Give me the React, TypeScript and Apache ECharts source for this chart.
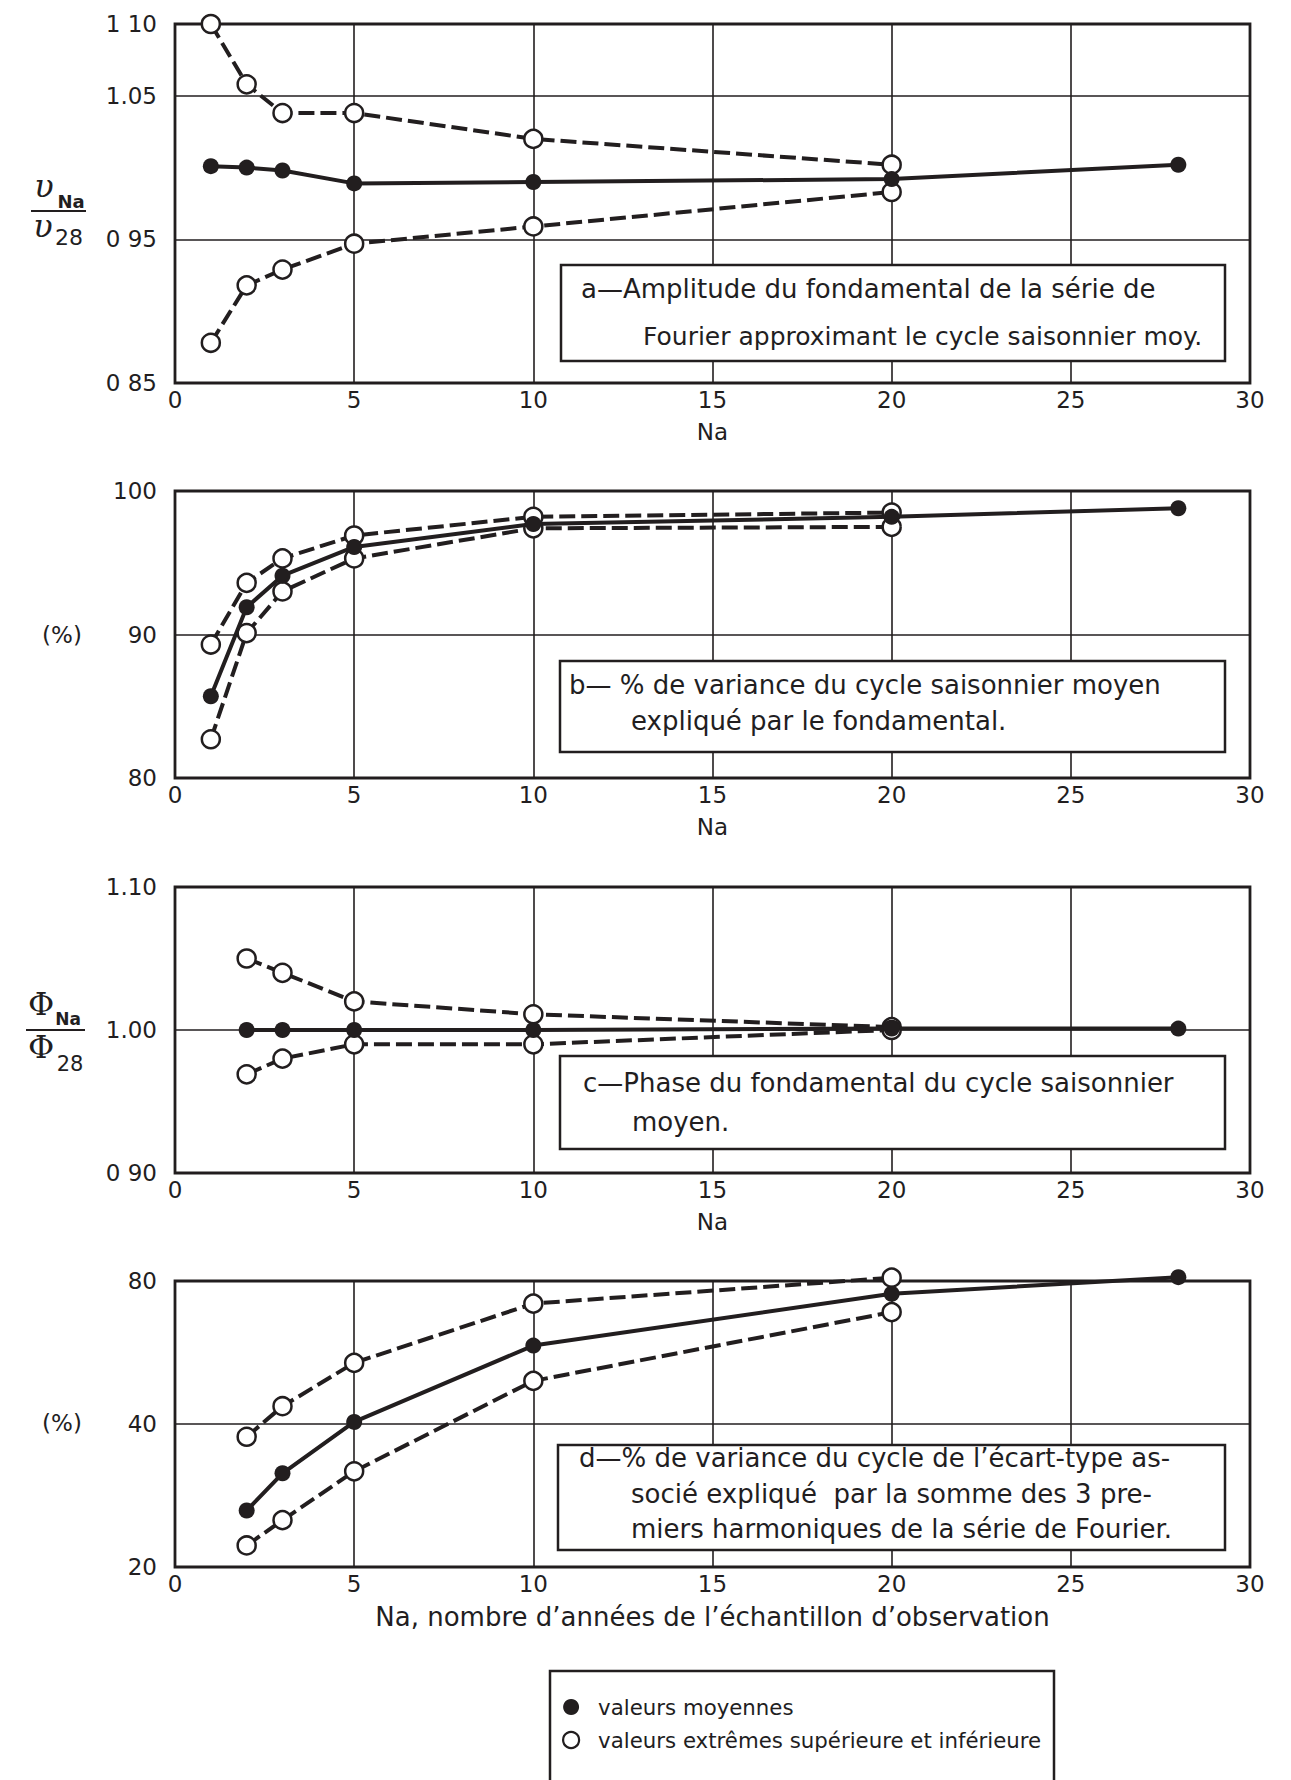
import React, { useEffect, useRef } from "react";
import * as echarts from "echarts";

const INK = "#221e1f";
const SANS = "'DejaVu Sans', 'Noto Sans', sans-serif";
const SERIF = "'DejaVu Serif', 'Liberation Serif', serif";

const MEAN_NAME = "valeurs moyennes";
const EXT_NAME = "valeurs extrêmes supérieure et inférieure";

// Na: number of years in the observation sample
const naAll = [1, 2, 3, 5, 10, 20, 28];
const naExtremes = [1, 2, 3, 5, 10, 20];
const naFrom2 = [2, 3, 5, 10, 20, 28];
const naExtremesFrom2 = [2, 3, 5, 10, 20];

// a — amplitude of the fundamental, v_Na / v_28
const ampMean = [1.001, 1.0, 0.998, 0.989, 0.99, 0.992, 1.002];
const ampUpper = [1.1, 1.058, 1.038, 1.038, 1.02, 1.002];
const ampLower = [0.878, 0.918, 0.929, 0.947, 0.959, 0.983];

// b — % of variance of the mean seasonal cycle explained by the fundamental
const varMean = [85.7, 91.9, 94.1, 96.1, 97.7, 98.2, 98.8];
const varUpper = [89.3, 93.6, 95.3, 96.9, 98.2, 98.5];
const varLower = [82.7, 90.1, 93.0, 95.3, 97.4, 97.5];

// c — phase of the fundamental, Φ_Na / Φ_28
const phaseMean = [1.0, 1.0, 1.0, 1.0, 1.001, 1.001];
const phaseUpper = [1.05, 1.04, 1.02, 1.011, 1.002];
const phaseLower = [0.969, 0.98, 0.99, 0.99, 1.0];

// d — % of variance of the standard-deviation cycle explained by the first 3 harmonics
const sdMean = [26.3, 31.5, 40.4, 58.5, 75.2, 81.5];
const sdUpper = [37.6, 43.6, 53.8, 71.7, 81.3];
const sdLower = [22.2, 25.1, 31.8, 49.3, 68.8];

// y-axis tick values and their printed labels
const ampTicks = [0.85, 0.95, 1.05, 1.1];
const ampTickLabels = ["0 85", "0 95", "1.05", "1 10"];
const varTicks = [80, 90, 100];
const varTickLabels = ["80", "90", "100"];
const phaseTicks = [0.9, 1.0, 1.1];
const phaseTickLabels = ["0 90", "1.00", "1.10"];
const sdTicks = [20, 40, 80];
const sdTickLabels = ["20", "40", "80"];
const sdGrid = [40];

// captions
const noteA = ["a—Amplitude du fondamental de la série de", "Fourier approximant le cycle saisonnier moy."];
const noteB = ["b— % de variance du cycle saisonnier moyen", "expliqué par le fondamental."];
const noteC = ["c—Phase du fondamental du cycle saisonnier", "moyen."];
const noteD = [
  "d—% de variance du cycle de l’écart-type as-",
  "socié expliqué  par la somme des 3 pre-",
  "miers harmoniques de la série de Fourier.",
];
const xTitle = "Na";
const xTitleLast = "Na, nombre d’années de l’échantillon d’observation";

// layout (px)
const PLOT_LEFT = 175;
const PLOT_WIDTH = 1075;
const panelTops = [24, 491, 887, 1281];
const panelHeights = [359, 287, 286, 286];
const NOTE_FONT = 26;
const TICK_FONT = 23;
const BOX_RIGHT = 1225;

const pairs = (xs: number[], ys: number[]) => xs.map((x, k) => [x, ys[k]]);

const labelFor = (v: number, ticks: number[], labels: string[]) => {
  for (let k = 0; k < ticks.length; k++) {
    if (Math.abs(ticks[k] - v) < 1e-6 * Math.max(1, Math.abs(v))) return labels[k];
  }
  return "";
};

function xAxisFor(i: number) {
  return {
    type: "value",
    gridIndex: i,
    min: 0,
    max: 30,
    interval: 5,
    axisLine: { show: false },
    axisTick: { show: false },
    splitLine: { show: true, lineStyle: { color: INK, width: 1.6 } },
    axisLabel: {
      margin: 5,
      fontSize: TICK_FONT,
      color: INK,
      fontFamily: SANS,
      showMinLabel: true,
      showMaxLabel: true,
    },
    name: i === 3 ? xTitleLast : xTitle,
    nameLocation: "middle",
    nameGap: 37,
    nameTextStyle: { fontSize: i === 3 ? 26 : TICK_FONT, color: INK, fontFamily: SANS },
  };
}

function yAxisFor(
  i: number,
  min: number,
  max: number,
  interval: number | null,
  ticks: number[],
  labels: string[],
  log = false
) {
  const axis: any = {
    type: log ? "log" : "value",
    gridIndex: i,
    min,
    max,
    axisLine: { show: false },
    axisTick: { show: false },
    splitLine: { show: !log, lineStyle: { color: INK, width: 1.6 } },
    axisLabel: {
      margin: 18,
      fontSize: TICK_FONT,
      color: INK,
      fontFamily: SANS,
      showMinLabel: true,
      showMaxLabel: true,
      formatter: (v: number) => labelFor(v, ticks, labels),
    },
  };
  if (log) {
    axis.logBase = 2;
    axis.axisLabel.customValues = ticks;
  } else if (interval != null) {
    axis.interval = interval;
  }
  return axis;
}

function meanSeries(i: number, data: number[][]) {
  return {
    type: "line",
    name: MEAN_NAME,
    xAxisIndex: i,
    yAxisIndex: i,
    data,
    symbol: "circle",
    symbolSize: 16,
    clip: false,
    silent: true,
    z: 5,
    lineStyle: { color: INK, width: 4 },
    itemStyle: { color: INK, borderColor: INK, borderWidth: 0 },
  };
}

function extremeSeries(i: number, data: number[][]) {
  return {
    type: "line",
    name: EXT_NAME,
    xAxisIndex: i,
    yAxisIndex: i,
    data,
    symbol: "circle",
    symbolSize: 18,
    clip: false,
    silent: true,
    z: 4,
    lineStyle: { color: INK, width: 4, type: [16, 6] },
    itemStyle: { color: "#ffffff", borderColor: INK, borderWidth: 2.5 },
  };
}

function gridLineSeries(i: number, values: number[]) {
  return {
    type: "line",
    name: "grille",
    xAxisIndex: i,
    yAxisIndex: i,
    data: [],
    silent: true,
    z: 2,
    markLine: {
      silent: true,
      symbol: ["none", "none"],
      label: { show: false },
      lineStyle: { color: INK, width: 1.6, type: "solid" },
      data: values.map((v) => ({ yAxis: v })),
    },
  };
}

const text = (x: number, y: number, t: string, fontSize: number, opts: any = {}) => ({
  type: "text",
  x,
  y,
  z: 110,
  style: {
    text: t,
    fill: INK,
    fontSize,
    fontFamily: opts.fontFamily || SANS,
    fontStyle: opts.fontStyle || "normal",
    fontWeight: opts.fontWeight || "normal",
    align: opts.align || "left",
    textAlign: opts.align || "left",
    verticalAlign: "middle",
    textVerticalAlign: "middle",
  },
});

const box = (x: number, y: number, w: number, h: number, fill = "#ffffff") => ({
  type: "rect",
  z: 105,
  shape: { x, y, width: w, height: h },
  style: { fill, stroke: INK, lineWidth: 2.5 },
});

const rule = (x1: number, y: number, x2: number) => ({
  type: "line",
  z: 110,
  shape: { x1, y1: y, x2, y2: y },
  style: { stroke: INK, lineWidth: 2 },
});

function buildOption() {
  const grids = panelTops.map((top, i) => ({
    left: PLOT_LEFT,
    top,
    width: PLOT_WIDTH,
    height: panelHeights[i],
    show: true,
    borderColor: INK,
    borderWidth: 2.8,
    backgroundColor: "transparent",
  }));

  const series = [
    extremeSeries(0, pairs(naExtremes, ampUpper)),
    extremeSeries(0, pairs(naExtremes, ampLower)),
    meanSeries(0, pairs(naAll, ampMean)),

    extremeSeries(1, pairs(naExtremes, varUpper)),
    extremeSeries(1, pairs(naExtremes, varLower)),
    meanSeries(1, pairs(naAll, varMean)),

    extremeSeries(2, pairs(naExtremesFrom2, phaseUpper)),
    extremeSeries(2, pairs(naExtremesFrom2, phaseLower)),
    meanSeries(2, pairs(naFrom2, phaseMean)),

    gridLineSeries(3, sdGrid),
    extremeSeries(3, pairs(naExtremesFrom2, sdUpper)),
    extremeSeries(3, pairs(naExtremesFrom2, sdLower)),
    meanSeries(3, pairs(naFrom2, sdMean)),
  ];

  const graphic: any[] = [
    // y-axis titles
    text(44, 186, "υ", 32, { fontFamily: SERIF, fontStyle: "italic", align: "center" }),
    text(71, 201, "Na", 18, { fontWeight: "bold", align: "center" }),
    rule(31, 211, 86),
    text(43, 226, "υ", 32, { fontFamily: SERIF, fontStyle: "italic", align: "center" }),
    text(69, 237, "28", 22, { align: "center" }),

    text(62, 635, "(%)", TICK_FONT, { align: "center" }),

    text(41, 1004, "Φ", 32, { fontFamily: SERIF, align: "center" }),
    text(68, 1019, "Na", 17, { fontWeight: "bold", align: "center" }),
    rule(26, 1030, 85),
    text(41, 1047, "Φ", 32, { fontFamily: SERIF, align: "center" }),
    text(70, 1064, "28", 21, { align: "center" }),

    text(62, 1423, "(%)", TICK_FONT, { align: "center" }),

    // captions
    box(561, 265, BOX_RIGHT - 561, 96),
    text(581, 289, noteA[0], NOTE_FONT),
    text(643, 336, noteA[1], 25),

    box(560, 661, BOX_RIGHT - 560, 91),
    text(569, 685, noteB[0], NOTE_FONT),
    text(631, 721, noteB[1], NOTE_FONT),

    box(560, 1056, BOX_RIGHT - 560, 93),
    text(583, 1083, noteC[0], NOTE_FONT),
    text(632, 1122, noteC[1], NOTE_FONT),

    box(558, 1445, BOX_RIGHT - 558, 105),
    text(579, 1458, noteD[0], NOTE_FONT),
    text(631, 1494, noteD[1], NOTE_FONT),
    text(631, 1529, noteD[2], NOTE_FONT),

    // legend frame
    box(550, 1671, 504, 160, "transparent"),
  ];

  return {
    animation: false,
    backgroundColor: "#ffffff",
    textStyle: { fontFamily: SANS, color: INK },
    grid: grids,
    xAxis: [0, 1, 2, 3].map(xAxisFor),
    yAxis: [
      yAxisFor(0, 0.85, 1.1, 0.1, ampTicks, ampTickLabels),
      yAxisFor(1, 80, 100, 10, varTicks, varTickLabels),
      yAxisFor(2, 0.9, 1.1, 0.1, phaseTicks, phaseTickLabels),
      yAxisFor(3, 20, 80, null, sdTicks, sdTickLabels, true),
    ],
    legend: {
      orient: "vertical",
      left: 557,
      top: 1691,
      padding: 5,
      itemWidth: 44,
      itemHeight: 16,
      itemGap: 11,
      selectedMode: false,
      icon: "circle",
      textStyle: { fontSize: 21.3, color: INK, fontFamily: SANS, lineHeight: 22 },
      data: [
        { name: MEAN_NAME, itemStyle: { color: INK, borderWidth: 0 } },
        { name: EXT_NAME, itemStyle: { color: "#ffffff", borderColor: INK, borderWidth: 2.2 } },
      ],
    },
    graphic,
    series,
  };
}

export default function App() {
  const ref = useRef<HTMLDivElement>(null);
  useEffect(() => {
    if (!ref.current) return;
    const chart = echarts.init(ref.current, null, { renderer: "svg" });
    chart.setOption(buildOption() as any);
    return () => chart.dispose();
  }, []);
  return (
    <div
      ref={ref}
      style={{ position: "absolute", left: 0, top: 0, width: 1291, height: 1780, background: "#ffffff" }}
    />
  );
}
